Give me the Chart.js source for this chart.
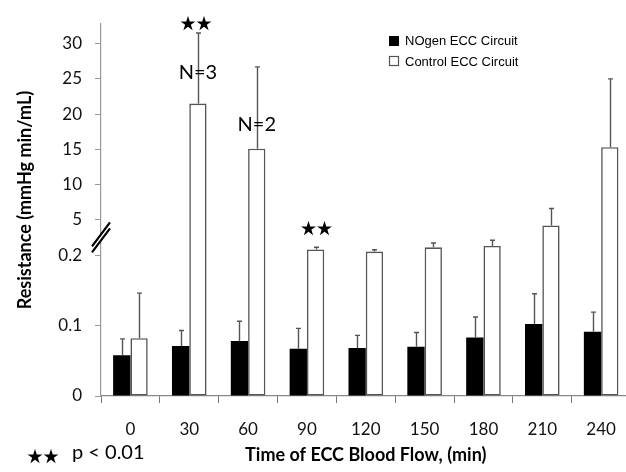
<!DOCTYPE html>
<html>
<head>
<meta charset="utf-8">
<script src="https://cdn.jsdelivr.net/npm/chart.js@4"></script>
<style>
  html, body { margin: 0; padding: 0; background: #fff; }
  #wrap { width: 626px; height: 472px; overflow: hidden; position: relative; }
  canvas { display: block; }
</style>
</head>
<body>
<div id="wrap"><canvas id="c" width="632" height="472"></canvas></div>
<script>
// ---- data ----
const categories = ['0', '30', '60', '90', '120', '150', '180', '210', '240'];
const nogenMean   = [0.058, 0.071, 0.078, 0.067, 0.068, 0.070, 0.083, 0.102, 0.091];
const nogenErr    = [0.023, 0.022, 0.028, 0.029, 0.018, 0.020, 0.029, 0.043, 0.028];
const controlMean = [0.082, 21.5, 15.1, 0.208, 0.205, 0.211, 0.213, 4.2, 15.3];
const controlErr  = [0.064, 10.0, 11.6, 0.003, 0.0025, 0.006, 0.008, 2.4, 9.7];
const yTickValues = [0, 0.1, 0.2, 5, 10, 15, 20, 25, 30];
const yTickLabels = ['0', '0.1', '0.2', '5', '10', '15', '20', '25', '30'];
const seriesNames = ['NOgen ECC Circuit', 'Control ECC Circuit'];

// broken axis: lower segment 0–0.2, upper segment 5–30
function toAxis(v) { return v < 1 ? v * 10 : 2 + v * 0.1; }

const errPlugin = {
  id: 'errbars',
  afterDatasetsDraw(chart) {
    const ctx = chart.ctx, ys = chart.scales.y;
    const sets = [[nogenMean, nogenErr], [controlMean, controlErr]];
    ctx.save();
    ctx.strokeStyle = '#555';
    ctx.lineWidth = 1.4;
    sets.forEach((s, di) => {
      const meta = chart.getDatasetMeta(di);
      meta.data.forEach((el, i) => {
        const top = ys.getPixelForValue(toAxis(s[0][i] + s[1][i]));
        const x = Math.round(el.x) + 0.5;
        ctx.beginPath();
        ctx.moveTo(x, el.y);
        ctx.lineTo(x, top);
        ctx.moveTo(x - 2.5, top);
        ctx.lineTo(x + 2.5, top);
        ctx.stroke();
      });
    });
    ctx.restore();
  }
};

const annoPlugin = {
  id: 'anno',
  afterDraw(chart) {
    const ctx = chart.ctx, ca = chart.chartArea, ys = chart.scales.y;
    const ctrl = chart.getDatasetMeta(1).data;
    ctx.save();
    // axis break marks
    const bx = ca.left, by = ys.getPixelForValue(2.25);
    ctx.fillStyle = '#fff';
    ctx.beginPath();
    ctx.moveTo(bx - 9, by + 10); ctx.lineTo(bx + 9, by - 15);
    ctx.lineTo(bx + 9, by - 9); ctx.lineTo(bx - 9, by + 16);
    ctx.closePath(); ctx.fill();
    ctx.strokeStyle = '#000';
    ctx.lineWidth = 2.2;
    ctx.beginPath();
    ctx.moveTo(bx - 9, by + 9); ctx.lineTo(bx + 9, by - 15);
    ctx.moveTo(bx - 9, by + 15); ctx.lineTo(bx + 9, by - 9);
    ctx.stroke();

    ctx.fillStyle = '#000';
    ctx.textAlign = 'center';
    ctx.textBaseline = 'middle';
    // significance stars
    ctx.font = '16px "Noto Sans CJK SC"';
    ctx.fillText('★★', ctrl[1].x - 2, 23);
    ctx.fillText('★★', ctrl[3].x + 1, 228);
    // N labels
    ctx.font = '20px Lato';
    ctx.fillText('N=3', ctrl[1].x, 73);
    ctx.fillText('N=2', ctrl[2].x, 125);
    // footnote
    ctx.textAlign = 'left';
    ctx.font = '16px "Noto Sans CJK SC"';
    ctx.fillText('★★', 27, 456);
    ctx.font = '20px Lato';
    ctx.fillText('p < 0.01', 72, 453);
    // axis titles
    ctx.font = 'bold 18px Lato';
    ctx.textAlign = 'center';
    ctx.fillText('Time of ECC Blood Flow, (min)', (ca.left + ca.right) / 2, 455);
    ctx.save();
    ctx.translate(25, 200);
    ctx.rotate(-Math.PI / 2);
    ctx.fillText('Resistance (mmHg min/mL)', 0, 0);
    ctx.restore();
    // legend
    ctx.textAlign = 'left';
    ctx.font = '13px "Liberation Sans"';
    ctx.fillStyle = '#000';
    ctx.fillRect(389, 36, 10, 10);
    ctx.fillText(seriesNames[0], 405, 41);
    ctx.strokeStyle = '#555';
    ctx.lineWidth = 1.2;
    ctx.strokeRect(389.5, 56.5, 9, 9);
    ctx.fillText(seriesNames[1], 405, 62);
    ctx.restore();
  }
};

new Chart(document.getElementById('c'), {
  type: 'bar',
  data: {
    labels: categories,
    datasets: [
      {
        label: seriesNames[0],
        data: nogenMean.map(toAxis),
        backgroundColor: '#000',
        borderColor: '#000',
        borderWidth: 0,
        barPercentage: 1,
        categoryPercentage: 0.588
      },
      {
        label: seriesNames[1],
        data: controlMean.map(toAxis),
        backgroundColor: '#fff',
        borderColor: '#555',
        borderWidth: 1.6,
        borderSkipped: false,
        barPercentage: 1,
        categoryPercentage: 0.588
      }
    ]
  },
  options: {
    responsive: false,
    animation: false,
    devicePixelRatio: 1,
    layout: { padding: { top: 18, right: 1, left: 0, bottom: 0 } },
    plugins: { legend: { display: false }, tooltip: { enabled: false } },
    scales: {
      x: {
        grid: { drawOnChartArea: false, drawTicks: true, tickLength: 7, color: '#777', offset: true },
        border: { display: true, color: '#888', width: 1.2 },
        ticks: { color: '#111', font: { family: 'Lato', size: 17 }, padding: 16, maxRotation: 0 },
        afterFit(s) { s.height = 76; }
      },
      y: {
        min: 0,
        max: 5.29,
        afterBuildTicks(s) { s.ticks = yTickValues.map(v => ({ value: toAxis(v) })); },
        grid: { drawOnChartArea: false, drawTicks: true, tickLength: 6, color: '#999' },
        border: { display: true, color: '#999', width: 1.2 },
        ticks: {
          color: '#111',
          font: { family: 'Lato', size: 17 },
          padding: 13,
          callback: (val, i) => yTickLabels[i]
        },
        afterFit(s) { s.width = 101; }
      }
    }
  },
  plugins: [errPlugin, annoPlugin]
});
</script>
</body>
</html>
